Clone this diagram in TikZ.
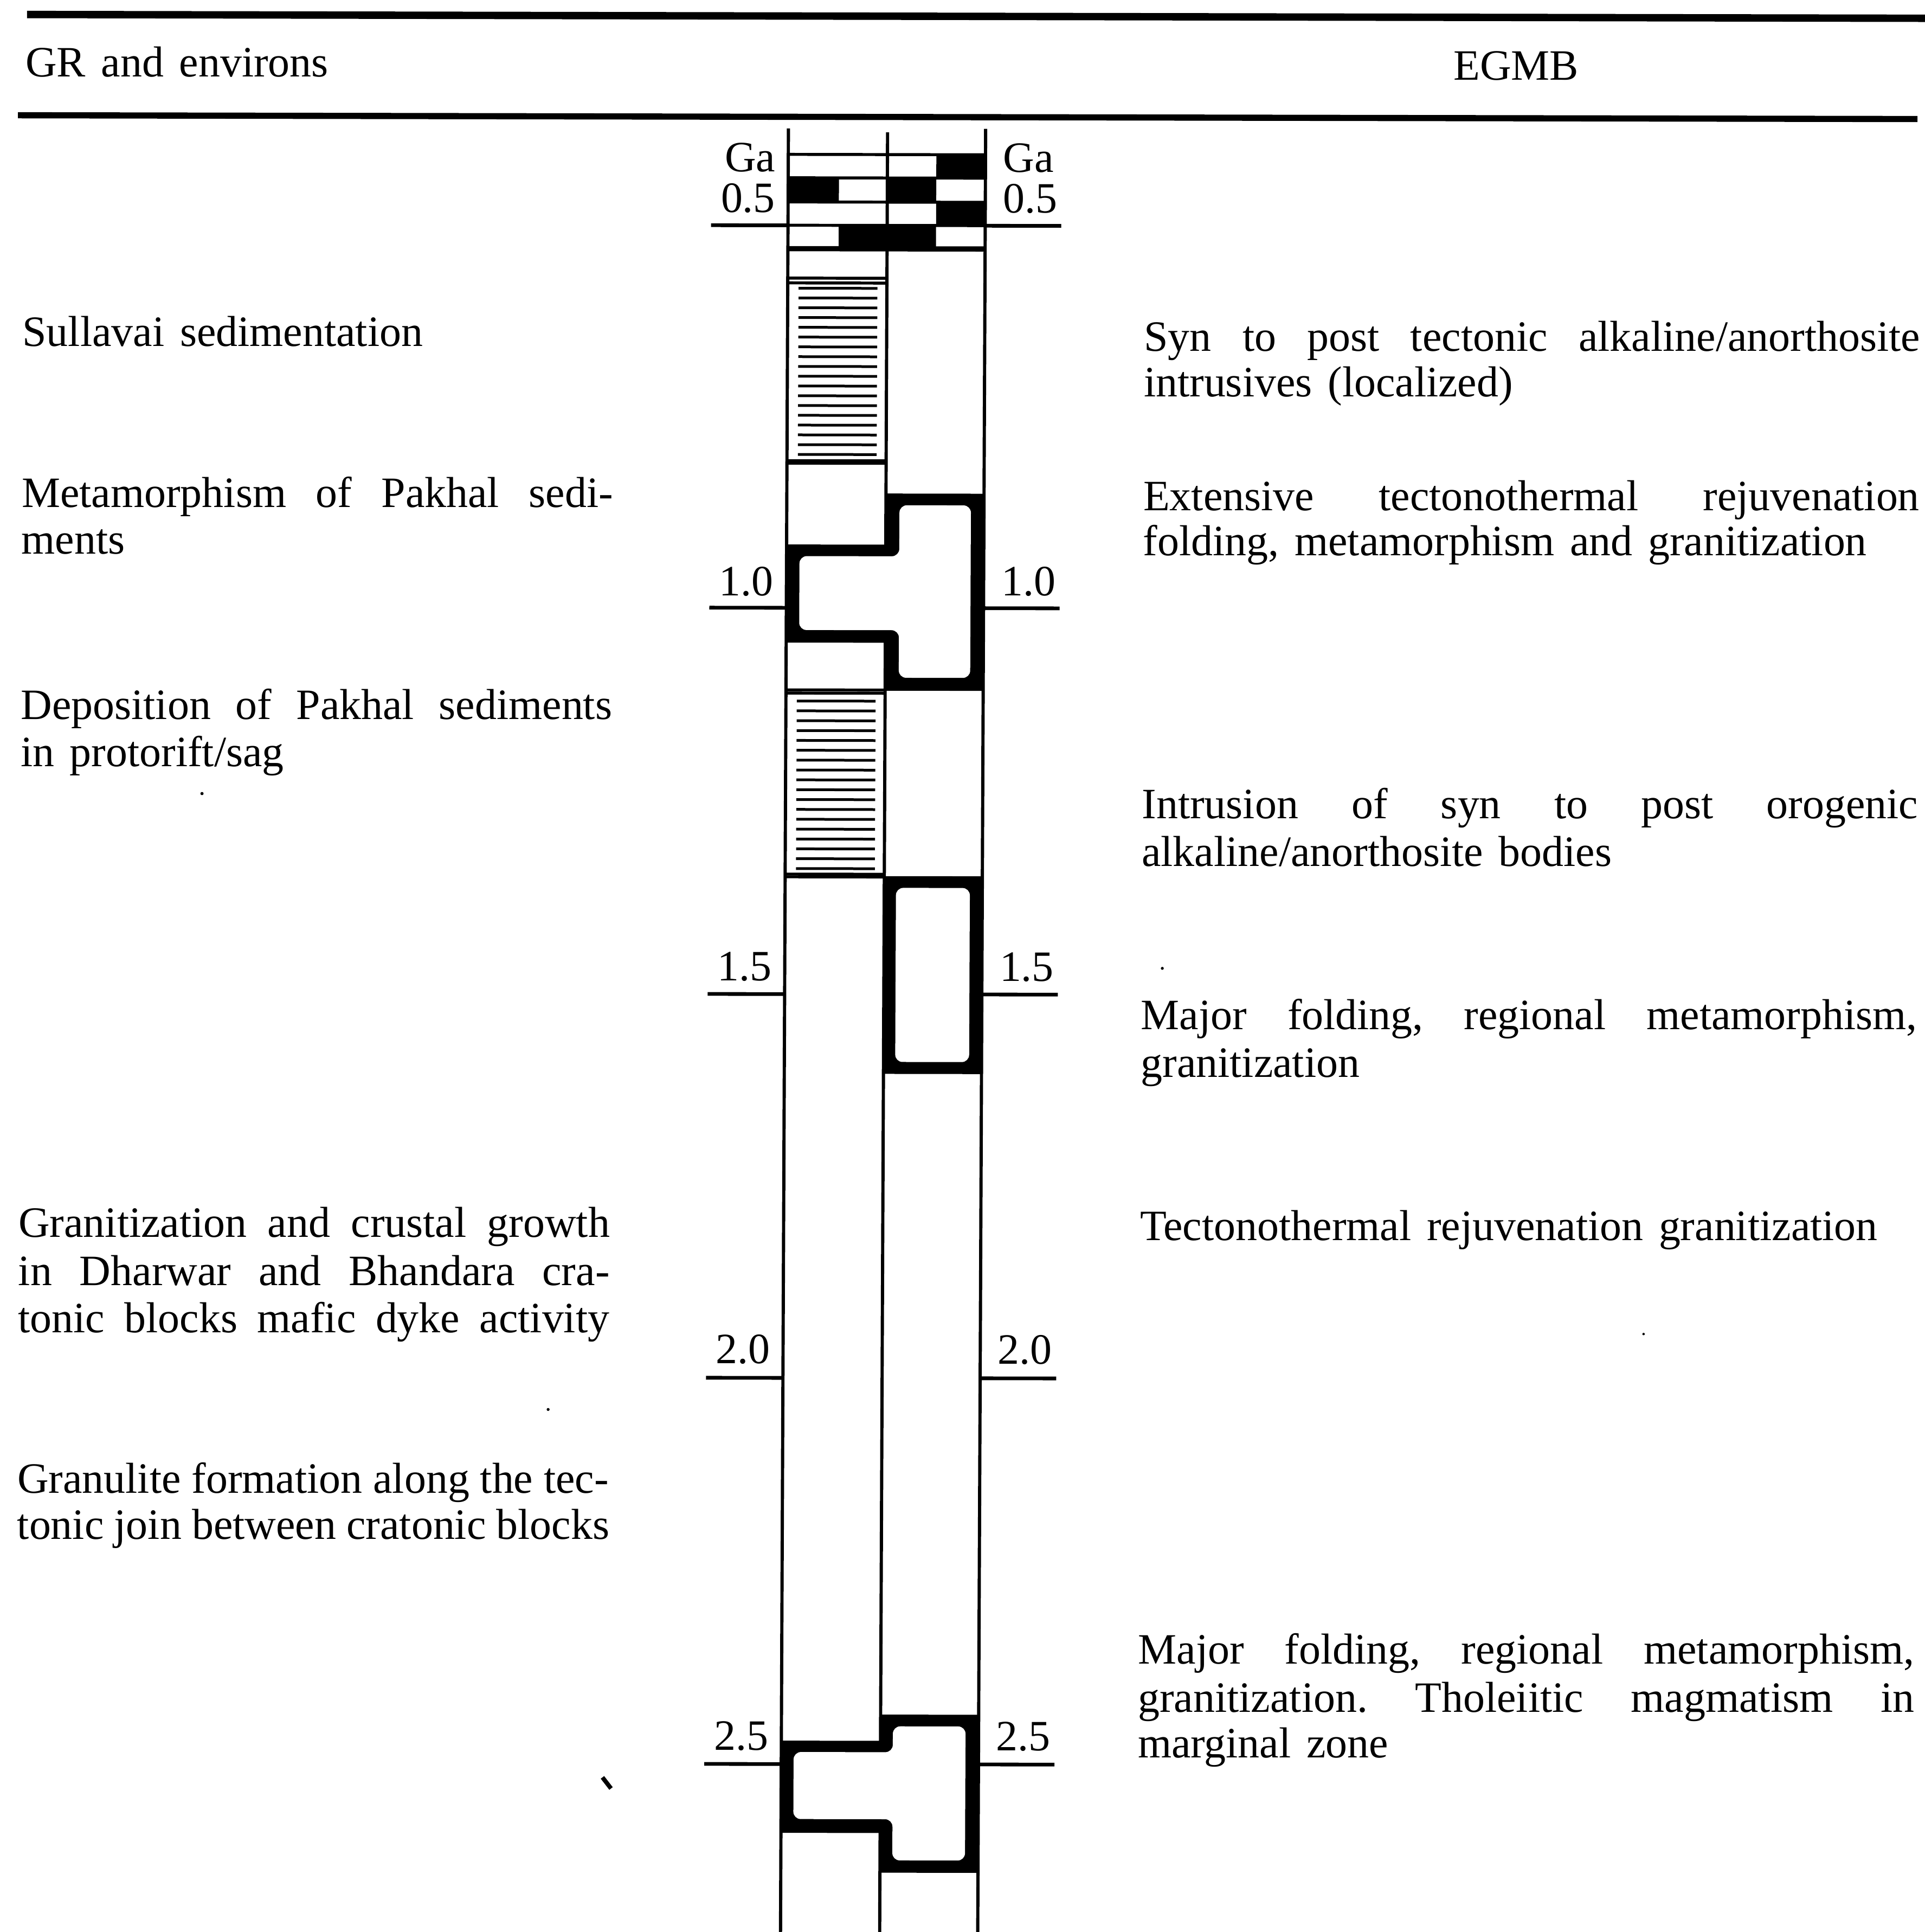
\documentclass[tikz,border=0pt]{standalone}
\usepackage{fontspec}
\setmainfont{Liberation Serif}
\newcommand\jl[2]{\makebox[#1][s]{#2}}
\newcommand\wsp{\frenchspacing\spaceskip=0.36em plus 0.5em minus 0.12em\relax}
\begin{document}
\begin{tikzpicture}[x=0.1mm,y=-0.1mm,
  txt/.style={anchor=base west,inner sep=0pt,outer sep=0pt,
    font={\fontsize{10}{12}\selectfont\wsp}},
  ctxt/.style={anchor=base,inner sep=0pt,outer sep=0pt,font={\fontsize{10}{12}\selectfont}},
  lblL/.style={anchor=base east,inner sep=0pt,outer sep=0pt,font={\fontsize{10}{12}\selectfont}},
  lblR/.style={anchor=base west,inner sep=0pt,outer sep=0pt,font={\fontsize{10}{12}\selectfont}},
  col/.style={line width=0.26mm},
  boxline/.style={line width=0.24mm},
  hatchline/.style={line width=0.22mm},
  tickline/.style={line width=0.3mm},
  blk/.style={fill=black},
  hole/.style={fill=white,rounded corners=0.6mm},
  speck/.style={fill=black}]
\useasboundingbox (0,0) rectangle (1562.7,1568);
\begin{scope}[cm={1,-0.002,0.0044,1,(0,0)}]
% header rules
\draw[line width=0.6mm] (22,11.7) -- (1563,11.7);
\draw[line width=0.5mm] (15,93.5) -- (1557,93.5);
\node[txt] (hL) at (21,62.3) {GR and environs};
\node[ctxt] (hR) at (1231,62.5) {EGMB};

% column verticals
\draw[col] (640.5,103) -- (640.5,1580);
\draw[col] (721,106) -- (721,1580);
\draw[col] (800.6,103) -- (800.6,1580);

% checker band
\fill[blk] (760.7,124) rectangle (800.6,143);
\fill[blk] (640.5,143) rectangle (681.7,162.6);
\fill[blk] (721,143) rectangle (760.7,162.6);
\fill[blk] (760.7,162.6) rectangle (800.6,181.5);
\fill[blk] (681.7,181.5) rectangle (760.7,199.6);
\foreach \yy in {124,143,162.6,181.5,199.6}
  \draw[boxline] (640.5,\yy) -- (800.6,\yy);
\draw[line width=0.4mm] (640.5,200.6) -- (800.6,200.6);

% left column box boundaries
\foreach \yy in {224.4,228.3,372.6,374.6,558.6,561.2,708.1,710.3}
  \draw[boxline] (640.5,\yy) -- (721,\yy);

% hatching
\foreach \i in {0,...,17}
  \draw[hatchline] (649.3,232.6+7.935*\i) -- (713.3,232.6+7.935*\i);
\foreach \i in {0,...,17}
  \draw[hatchline] (649.3,567.6+8*\i) -- (713.3,567.6+8*\i);

% T-shaped block 1
\fill[blk] (640.5,440.6) -- (721,440.6) -- (721,399.1) -- (800.6,399.1) -- (800.6,559.1) -- (721,559.1) -- (721,520.2) -- (640.5,520.2) -- cycle;
\fill[hole] (651,450) -- (732,450) -- (732,408.6) -- (790,408.6) -- (790,548.6) -- (732,548.6) -- (732,510) -- (651,510) -- cycle;

% block 2 (right column)
\fill[blk] (720.5,709.6) rectangle (800.6,870.1);
\fill[hole] (730.5,719.1) rectangle (790.5,860.4);

% T-shaped block 3
\fill[blk] (640.5,1411.4) -- (721,1411.4) -- (721,1390.1) -- (800.6,1390.1) -- (800.6,1518.4) -- (721,1518.4) -- (721,1486.2) -- (640.5,1486.2) -- cycle;
\fill[hole] (650.5,1420.6) -- (731,1420.6) -- (731,1399.6) -- (790,1399.6) -- (790,1508.4) -- (731,1508.4) -- (731,1475) -- (650.5,1475) -- cycle;

% ticks
\foreach \yy in {181.6,492,805.5,1117,1430.4}{
  \draw[tickline] (578,\yy) -- (640.5,\yy);
  \draw[tickline] (800.6,\yy) -- (862.3,\yy);
}
% tick labels
\node[lblL] (gaL) at (630,138) {Ga};
\node[lblR] (gaR) at (815,138) {Ga};
\node[lblL] (aL05) at (630,171) {0.5};
\node[lblR] (aR05) at (815,171) {0.5};
\node[lblL] (aL10) at (630,482) {1.0};
\node[lblR] (aR10) at (815,482) {1.0};
\node[lblL] (aL15) at (630,794.5) {1.5};
\node[lblR] (aR15) at (815,794.5) {1.5};
\node[lblL] (aL20) at (630,1105.5) {2.0};
\node[lblR] (aR20) at (815,1105.5) {2.0};
\node[lblL] (aL25) at (630,1419) {2.5};
\node[lblR] (aR25) at (815,1419) {2.5};

% left texts
\node[txt] (l1) at (19.5,281) {Sullavai sedimentation};
\node[txt] (l2a) at (19.5,411.5) {\jl{48mm}{Metamorphism of Pakhal sedi-}};
\node[txt] (l2b) at (19.5,449.7) {ments};
\node[txt] (l3a) at (19.5,583.9) {\jl{48mm}{Deposition of Pakhal sediments}};
\node[txt] (l3b) at (19.5,622) {in protorift/sag};
\node[txt] (l4a) at (19.5,1003.9) {\jl{48mm}{Granitization and crustal growth}};
\node[txt] (l4b) at (19.5,1043.1) {\jl{48mm}{in Dharwar and Bhandara cra-}};
\node[txt] (l4c) at (19.5,1081.5) {\jl{48mm}{tonic blocks mafic dyke activity}};
\node[txt] (l5a) at (19.5,1211.9) {\jl{48mm}{Granulite formation along the tec-}};
\node[txt] (l5b) at (19.5,1249.3) {\jl{48mm}{tonic join between cratonic blocks}};

% right texts
\node[txt] (r1a) at (930,283) {\jl{63mm}{Syn to post tectonic alkaline/anorthosite}};
\node[txt] (r1b) at (930,320) {intrusives (localized)};
\node[txt] (r2a) at (930,412.4) {\jl{63mm}{Extensive tectonothermal rejuvenation}};
\node[txt] (r2b) at (930,449) {folding, metamorphism and granitization};
\node[txt] (r3a) at (930,662.6) {\jl{63mm}{Intrusion of syn to post orogenic}};
\node[txt] (r3b) at (930,701.3) {alkaline/anorthosite bodies};
\node[txt] (r4a) at (930,833.5) {\jl{63mm}{Major folding, regional metamorphism,}};
\node[txt] (r4b) at (930,872.3) {granitization};
\node[txt] (r5) at (930,1004.9) {Tectonothermal rejuvenation granitization};
\node[txt] (r6a) at (930,1348.5) {\jl{63mm}{Major folding, regional metamorphism,}};
\node[txt] (r6b) at (930,1387.7) {\jl{63mm}{granitization. Tholeiitic magmatism in}};
\node[txt] (r6c) at (930,1424.8) {marginal zone};

% specks of the original print
\fill[speck] (166.8,643.7) circle (1.3);
\fill[speck] (450,1143) circle (1.2);
\fill[speck] (947,784) circle (1.2);
\fill[speck] (1339,1080) circle (1);
\draw[line width=0.35mm] (495.4,1441.5) -- (502.4,1450.5);
\end{scope}
\end{tikzpicture}
\end{document}
